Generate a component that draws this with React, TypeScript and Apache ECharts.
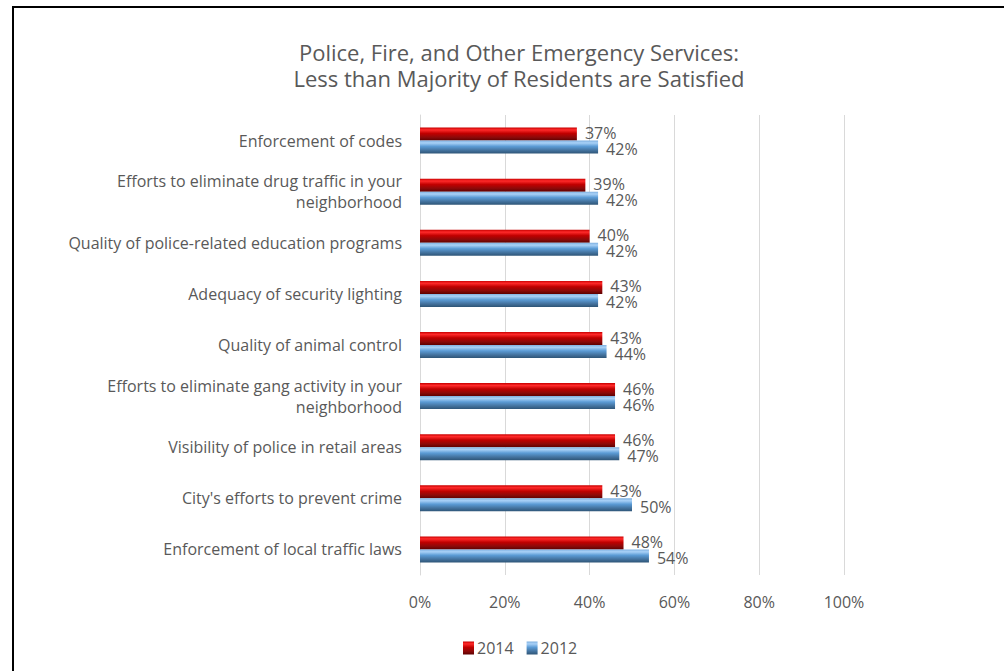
import React, { useEffect, useRef } from "react";
import * as echarts from "echarts";

const categories = [
  "Enforcement of codes",
  "Efforts to eliminate drug traffic in your\nneighborhood",
  "Quality of police-related education programs",
  "Adequacy of security lighting",
  "Quality of animal control",
  "Efforts to eliminate gang activity in your\nneighborhood",
  "Visibility of police in retail areas",
  "City's efforts to prevent crime",
  "Enforcement of local traffic laws",
];
const values2014 = [37, 39, 40, 43, 43, 46, 46, 43, 48];
const values2012 = [42, 42, 42, 42, 44, 46, 47, 50, 54];
const xTicks = [0, 20, 40, 60, 80, 100];

const FONT = "'Open Sans', sans-serif";
const TXT = "#595959";

const redGrad = new echarts.graphic.LinearGradient(0, 0, 0, 1, [
  { offset: 0, color: "#c80000" },
  { offset: 0.18, color: "#ff2a2a" },
  { offset: 0.45, color: "#c00000" },
  { offset: 0.75, color: "#8c0a0a" },
  { offset: 1, color: "#5e0000" },
]);
const blueGrad = new echarts.graphic.LinearGradient(0, 0, 0, 1, [
  { offset: 0, color: "#7fb0e0" },
  { offset: 0.18, color: "#a9d1f7" },
  { offset: 0.45, color: "#5b9bd5" },
  { offset: 0.75, color: "#44739f" },
  { offset: 1, color: "#2e5577" },
]);

export default function App() {
  const ref = useRef<HTMLDivElement>(null);
  useEffect(() => {
    if (!ref.current) return;
    const chart = echarts.init(ref.current, null, { renderer: "svg" });
    chart.setOption({
      animation: false,
      backgroundColor: "#ffffff",
      textStyle: { fontFamily: FONT, color: TXT },
      title: {
        text: "Police, Fire, and Other Emergency Services:\nLess than Majority of Residents are Satisfied",
        left: 514,
        textAlign: "center",
        top: 34,
        textStyle: {
          fontFamily: FONT,
          fontSize: 22,
          lineHeight: 26,
          fontWeight: "normal",
          color: TXT,
        },
      },
      graphic: [
        { type: "line", shape: { x1: 12, y1: 7, x2: 1004, y2: 7 }, style: { stroke: "#000", lineWidth: 2 } },
        { type: "line", shape: { x1: 13, y1: 6, x2: 13, y2: 671 }, style: { stroke: "#000", lineWidth: 2 } },
      ],
      legend: {
        data: ["2014", "2012"],
        left: 458,
        top: 635,
        itemWidth: 11,
        itemHeight: 13,
        itemGap: 13,
        icon: "rect",
        textStyle: { fontFamily: FONT, fontSize: 16, color: TXT, padding: [0, 0, 0, -2] },
      },
      grid: { left: 420, right: 160, top: 115, bottom: 96, containLabel: false },
      xAxis: {
        type: "value",
        min: xTicks[0],
        max: xTicks[xTicks.length - 1],
        interval: 20,
        axisLine: { show: false },
        axisTick: { show: false },
        axisLabel: { formatter: "{value}%", fontFamily: FONT, fontSize: 16, color: TXT, margin: 19 },
        splitLine: { lineStyle: { color: "#d9d9d9", width: 1 } },
      },
      yAxis: {
        type: "category",
        data: categories,
        inverse: true,
        axisLine: { show: true, lineStyle: { color: "#d9d9d9" } },
        axisTick: { show: false },
        axisLabel: { fontFamily: FONT, fontSize: 16, color: TXT, margin: 18, lineHeight: 21, align: "right" },
      },
      series: [
        {
          name: "2014",
          type: "bar",
          data: values2014,
          barWidth: 13,
          barGap: "0%",
          itemStyle: { color: redGrad },
          label: { show: true, position: "right", distance: 8, offset: [0, -1], formatter: "{c}%", fontFamily: FONT, fontSize: 16, color: TXT },
        },
        {
          name: "2012",
          type: "bar",
          data: values2012,
          barWidth: 13,
          barGap: "0%",
          itemStyle: { color: blueGrad },
          label: { show: true, position: "right", distance: 8, offset: [0, 2], formatter: "{c}%", fontFamily: FONT, fontSize: 16, color: TXT },
        },
      ],
    });
    return () => chart.dispose();
  }, []);
  return (
    <div
      ref={ref}
      style={{ position: "fixed", left: 0, top: 0, width: 1004, height: 671 }}
    />
  );
}
